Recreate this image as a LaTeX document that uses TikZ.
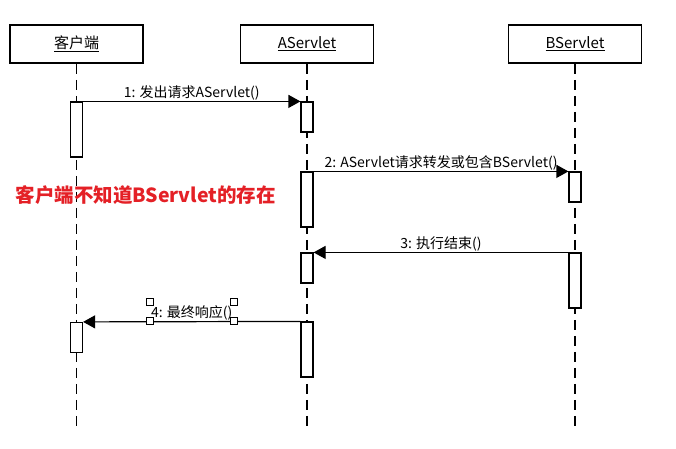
\documentclass[tikz,border=0pt]{standalone}
\usepackage{fontspec}
\setmainfont{Noto Sans CJK SC}
\usetikzlibrary{arrows.meta}
\definecolor{notered}{RGB}{228,32,38}

\tikzset{
	head/.style={draw, line width=1.8pt, minimum width=133pt, minimum height=38pt, font=\fontsize{15}{17}\selectfont},
	life/.style={dash pattern=on 10pt off 6pt, line width=1.2pt},
	act/.style={draw, fill=white, line width=1.2pt, minimum width=12pt, inner sep=0pt},
	msg/.style={-{Triangle[length=12pt,width=13pt]}, line width=1.2pt},
	lbl/.style={above, inner sep=1pt, font=\fontsize{14}{16}\selectfont},
	handle/.style={draw, fill=white, line width=0.7pt, minimum size=7pt, inner sep=0pt}
}

\begin{document}
\begin{tikzpicture}[x=1pt,y=-1pt]

	\useasboundingbox (0,0) rectangle (676,448);

	% heads
	\node[head] (client) at (76.5,44) {\underline{客户端}};
	\node[head] (aserv) at (307,44) {\underline{AServlet}};
	\node[head] (bserv) at (575,44) {\underline{BServlet}};

	\coordinate (clientend) at (76.5,427);
	\coordinate (aservend) at (307,427);
	\coordinate (bservend) at (575,427);

	\draw[life] (client) -- (clientend);
	\draw[life] (aserv) -- (aservend);
	\draw[life] (bserv) -- (bservend);

	% activations
	\node[act, minimum height=55pt] (c1) at (76.5,129.5) {};
	\node[act, minimum height=30pt] (a1) at (307,117) {};
	\node[act, minimum height=55pt] (a2) at (307,199.5) {};
	\node[act, minimum height=30pt] (b1) at (575,187) {};
	\node[act, minimum height=30pt] (a3) at (307,268) {};
	\node[act, minimum height=55pt] (b2) at (575,280.5) {};
	\node[act, minimum height=55pt] (a4) at (307,349.5) {};
	\node[act, minimum height=30pt] (c2) at (76.5,337.5) {};

	% messages
	\draw[msg] (c1.north east) -- (a1.north west) node[lbl, midway] {1: 发出请求AServlet()};
	\draw[msg] (a2.north east) -- (b1.north west) node[lbl, midway] {2: AServlet请求转发或包含BServlet()};
	\draw[msg] (b2.north west) -- (a3.north east) node[lbl, midway] {3: 执行结束()};
	\draw[msg] (a4.north west) -- (c2.north east) node[lbl, midway] {4: 最终响应()};

	% selection handles
	\foreach \x in {150,234}
		\foreach \y in {302,321}
			\node[handle] (h\x\y) at (\x,\y) {};

	\node[text=notered, font=\fontsize{19.5}{21}\selectfont\bfseries, anchor=west] (note) at (12,195) {客户端不知道BServlet的存在};

\end{tikzpicture}
\end{document}
